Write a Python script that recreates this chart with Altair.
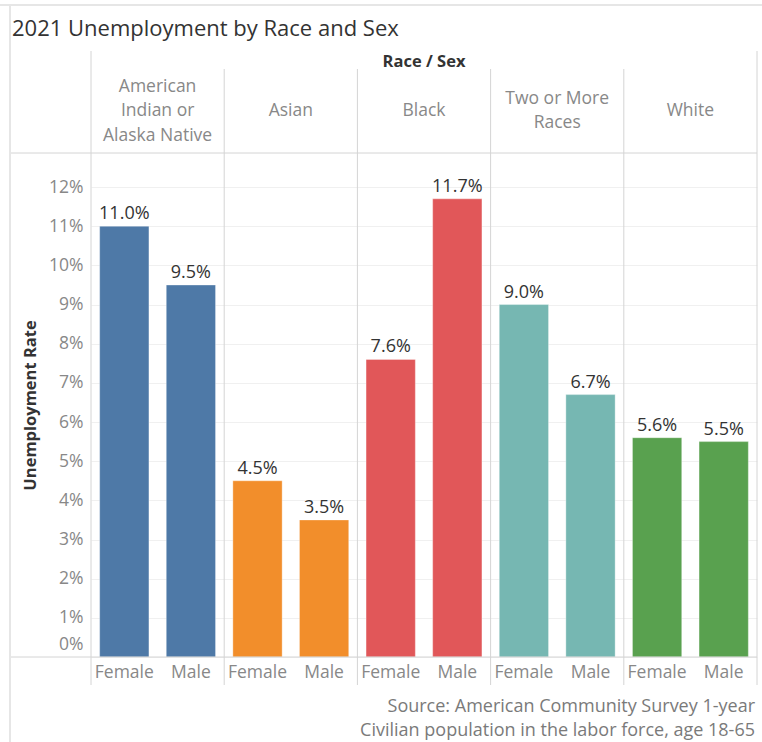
import altair as alt
import pandas as pd

races = ["American Indian or Alaska Native", "Asian", "Black", "Two or More Races", "White"]
race_headers = ["American\nIndian or\nAlaska Native", "Asian", "Black", "Two or More\nRaces", "White"]
sexes = ["Female", "Male"]
female_rates = [0.110, 0.045, 0.076, 0.090, 0.056]
male_rates = [0.095, 0.035, 0.117, 0.067, 0.055]
race_colors = ["#4e79a7", "#f28e2b", "#e15759", "#76b7b2", "#59a14f"]
y_ticks = [0, 0.01, 0.02, 0.03, 0.04, 0.05, 0.06, 0.07, 0.08, 0.09, 0.10, 0.11, 0.12]
title_text = "2021 Unemployment by Race and Sex"
footer_lines = ["Source: American Community Survey 1-year",
                "Civilian population in the labor force, age 18-65"]

rows = []
for r, f, m in zip(races, female_rates, male_rates):
    rows.append({"Race": r, "Sex": "Female", "key": r + "|Female", "rate": f})
    rows.append({"Race": r, "Sex": "Male", "key": r + "|Male", "rate": m})
df = pd.DataFrame(rows)
keys = list(df["key"])

hdr = pd.DataFrame({"Race": races, "header": race_headers})

FONT = "Open Sans"
GRAY = "#888888"
DARK = "#333333"
W, H = 666, 504
LH = 24.5

xk = alt.X("key:N", sort=keys,
           scale=alt.Scale(domain=keys, paddingInner=0.26, paddingOuter=0.13),
           axis=alt.Axis(title=None, labelExpr="split(datum.label, '|')[1]",
                         labelAngle=0, labelFontSize=17.5, labelColor=GRAY,
                         labelFont=FONT, tickSize=0, domain=False, labelPadding=6))
yv = alt.Y("rate:Q",
           scale=alt.Scale(domain=[0, 0.1287], nice=False, zero=True),
           axis=alt.Axis(title="Unemployment Rate", values=y_ticks, format=".0%",
                         labelFontSize=17.5, labelColor=GRAY, labelFont=FONT,
                         tickSize=0, domain=False, labelPadding=8,
                         labelFlush=True, labelFlushOffset=-4,
                         grid=True, gridColor="#f0f0f0", gridWidth=1,
                         titleFont=FONT, titleFontSize=16.5, titleFontWeight="bold",
                         titleColor=DARK, titlePadding=10))

base = alt.Chart(df)
bars = base.mark_bar(stroke="white", strokeOpacity=0.35, strokeWidth=1).encode(
    x=xk, y=yv,
    color=alt.Color("Race:N", scale=alt.Scale(domain=races, range=race_colors), legend=None),
)
labels = base.mark_text(baseline="bottom", dy=-3, fontSize=18, font=FONT, color=DARK).encode(
    x=alt.X("key:N", sort=keys), y="rate:Q",
    text=alt.Text("rate:Q", format=".1%"),
)
main = alt.layer(bars, labels)

race_scale = alt.Scale(domain=races, paddingInner=0, paddingOuter=0)
headers = alt.Chart(hdr).transform_calculate(
    hy=f"-42 - (length(split(datum.header, '\\n')) - 1) * {LH / 2}"
).mark_text(
    lineBreak="\n", baseline="middle", align="center", fontSize=17.5, font=FONT,
    color=GRAY, lineHeight=LH,
).encode(x=alt.X("Race:N", sort=races, scale=race_scale, axis=None),
         y=alt.Y("hy:Q", scale=None), text="header:N")

dividers = alt.Chart(hdr).transform_filter(
    alt.datum.Race != races[0]
).mark_rule(color="#d4d4d4", strokeWidth=1).encode(
    x=alt.X("Race:N", sort=races, scale=race_scale, bandPosition=0, axis=None),
    y=alt.value(-84), y2=alt.value(532),
)

deco = pd.DataFrame({"d": [0]})
edge_l = alt.Chart(deco).mark_rule(color="#d4d4d4").encode(x=alt.value(0), y=alt.value(-102), y2=alt.value(532))
edge_r = alt.Chart(deco).mark_rule(color="#d4d4d4").encode(x=alt.value(W), y=alt.value(-102), y2=alt.value(532))
hline_top = alt.Chart(deco).mark_rule(color="#d4d4d4").encode(x=alt.value(-81), x2=alt.value(W), y=alt.value(0))
hline_bot = alt.Chart(deco).mark_rule(color="#d4d4d4").encode(x=alt.value(-81), x2=alt.value(W), y=alt.value(H))
outer_l = alt.Chart(deco).mark_rule(color="#e6e6e6", strokeWidth=2).encode(x=alt.value(-81), y=alt.value(-148), y2=alt.value(589))
outer_t = alt.Chart(deco).mark_rule(color="#e6e6e6", strokeWidth=2).encode(x=alt.value(-91), x2=alt.value(671), y=alt.value(-148))

race_sex = alt.Chart(deco).mark_text(fontSize=16.5, font=FONT, fontWeight="bold", color=DARK,
                                     baseline="middle").encode(
    x=alt.value(W / 2), y=alt.value(-91), text=alt.value("Race   /   Sex"))
title = alt.Chart(deco).mark_text(fontSize=22, font=FONT, color=DARK, align="left",
                                  baseline="middle").encode(
    x=alt.value(-79), y=alt.value(-124), text=alt.value(title_text))

foot = pd.DataFrame({"line": footer_lines, "i": [0, 1]})
footer1 = alt.Chart(foot).transform_filter(alt.datum.i == 0).mark_text(
    fontSize=18, font=FONT, color="#7a7a7a", align="right", baseline="middle").encode(
    x=alt.value(W - 2), y=alt.value(554), text="line:N")
footer2 = alt.Chart(foot).transform_filter(alt.datum.i == 1).mark_text(
    fontSize=18, font=FONT, color="#7a7a7a", align="right", baseline="middle").encode(
    x=alt.value(W - 2), y=alt.value(578), text="line:N")

chart = alt.layer(
    main, headers, dividers, edge_l, edge_r, hline_top, hline_bot, outer_l, outer_t,
    race_sex, title, footer1, footer2,
).resolve_scale(x="independent").properties(
    width=W, height=H,
    autosize=alt.AutoSizeParams(type="none"),
    padding={"left": 91, "top": 153, "right": 5, "bottom": 85},
).configure_view(stroke=None)

chart.save("out.html", embed_options={"renderer": "svg", "actions": False})
